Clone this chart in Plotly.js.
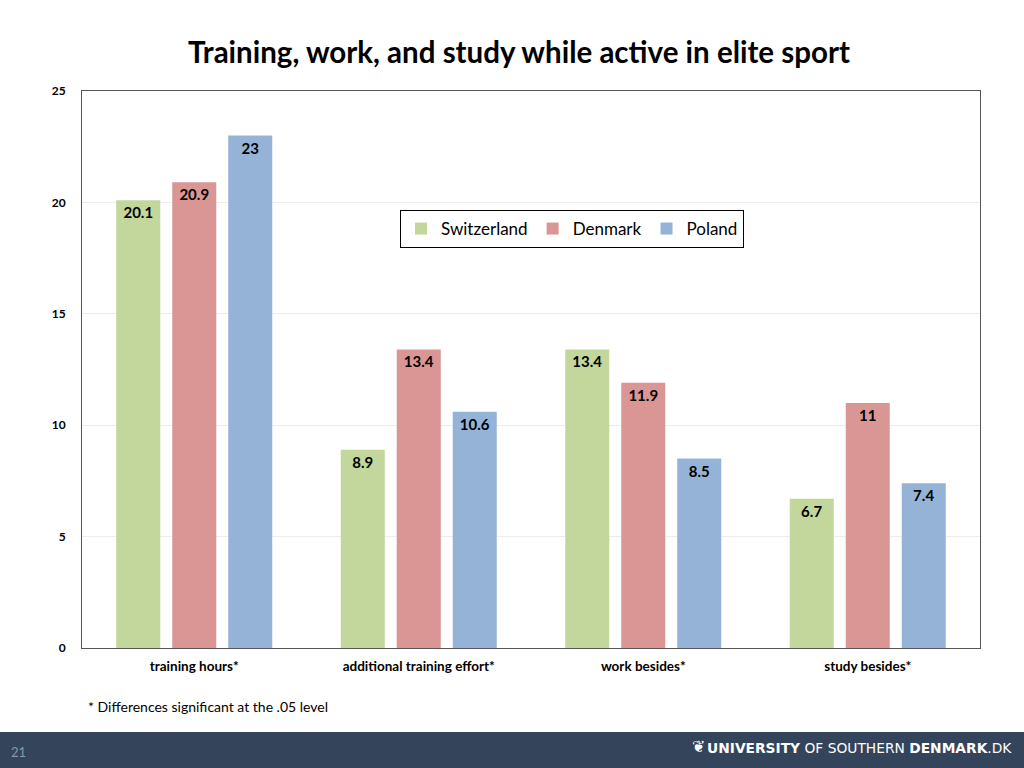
<!DOCTYPE html>
<html>
<head>
<meta charset="utf-8">
<script src="https://cdn.plot.ly/plotly-3.0.1.min.js"></script>
<style>
html,body{margin:0;padding:0;background:#fff;}
#chart{width:1024px;height:768px;}
</style>
</head>
<body>
<div id="chart"></div>
<script>
const categories = ["training hours*", "additional training effort*", "work besides*", "study besides*"];
const switzerland = [20.1, 8.9, 13.4, 6.7];
const denmark = [20.9, 13.4, 11.9, 11];
const poland = [23, 10.6, 8.5, 7.4];
const seriesNames = ["Switzerland", "Denmark", "Poland"];
const yTicks = [0, 5, 10, 15, 20, 25];

const colors = ["#c3d69b", "#d99694", "#95b3d7"];
const W = 1024, H = 768;
const L = 82, R = 980, T = 91, B = 648;
const px = x => (x - L) / (R - L);
const py = y => (B - y) / (B - T);
const FONT = "Lato, 'Open Sans', sans-serif";

const allSeries = [switzerland, denmark, poland];
const traces = allSeries.map((vals, i) => ({
  type: "bar",
  name: seriesNames[i],
  x: categories,
  y: vals,
  marker: {color: colors[i], line: {width: 0}},
  text: vals.map(v => String(v)),
  textposition: "inside",
  insidetextanchor: "end",
  constraintext: "none",
  textfont: {family: FONT, size: 15, color: "#000", weight: 700},
  cliponaxis: false,
  hoverinfo: "x+y+name"
}));

const layout = {
  width: W, height: H,
  margin: {l: L, r: W - R, t: T, b: H - B, pad: 0},
  paper_bgcolor: "#fff",
  plot_bgcolor: "#fff",
  font: {family: FONT, color: "#000"},
  title: {
    text: "<b>Training, work, and study while active in elite sport</b>",
    font: {family: FONT, size: 29.5, color: "#000"},
    x: 519 / W, xanchor: "center", xref: "container",
    y: 1 - 53 / H, yanchor: "middle", yref: "container"
  },
  barmode: "group",
  bargap: 0.2517,
  bargroupgap: 0.214,
  xaxis: {
    type: "category",
    showgrid: false,
    showline: true, linecolor: "#555", linewidth: 1, mirror: true,
    ticks: "",
    tickfont: {family: FONT, size: 13.5, color: "#000", weight: 700},
    ticklabelstandoff: 6,
    zeroline: false
  },
  yaxis: {
    range: [0, 25],
    tickvals: yTicks,
    ticktext: yTicks.map(String),
    showgrid: true, gridcolor: "#ececec", gridwidth: 1,
    showline: true, linecolor: "#555", linewidth: 1, mirror: true,
    ticks: "",
    tickfont: {family: FONT, size: 12, color: "#000", weight: 700},
    ticklabelstandoff: 13,
    zeroline: false
  },
  legend: {
    orientation: "h",
    x: px(400), xanchor: "left",
    y: py(210), yanchor: "top",
    bgcolor: "#fff",
    bordercolor: "#000", borderwidth: 1,
    font: {family: FONT, size: 17, color: "#000"},
    itemwidth: 30,
    tracegroupgap: 0
  },
  showlegend: true,
  shapes: [
    {type: "rect", xref: "paper", yref: "paper", x0: px(0), x1: px(W), y0: py(732), y1: py(H + 2),
     fillcolor: "#33445b", line: {width: 0}, layer: "above"}
  ],
  annotations: [
    {text: "* Differences significant at the .05 level", xref: "paper", yref: "paper",
     x: px(86), y: py(706), xanchor: "left", yanchor: "middle", showarrow: false,
     font: {family: FONT, size: 14, color: "#000"}},
    {text: "21", xref: "paper", yref: "paper", x: px(9), y: py(752), xanchor: "left", yanchor: "middle",
     showarrow: false, font: {family: FONT, size: 13, color: "#8a97a8"}},
    {text: "<b>UNIVERSITY</b> OF SOUTHERN <b>DENMARK</b>.DK", xref: "paper", yref: "paper",
     x: px(1014), y: py(748), xanchor: "right", yanchor: "middle", showarrow: false,
     font: {family: "'DejaVu Sans', sans-serif", size: 13.8, color: "#ffffff"}},
    {text: "❦", xref: "paper", yref: "paper",
     x: px(698), y: py(746), xanchor: "center", yanchor: "middle", showarrow: false,
     font: {family: "'DejaVu Sans', sans-serif", size: 16, color: "#ffffff"}}
  ]
};

Plotly.newPlot("chart", traces, layout, {displayModeBar: false, staticPlot: true});
</script>
</body>
</html>
